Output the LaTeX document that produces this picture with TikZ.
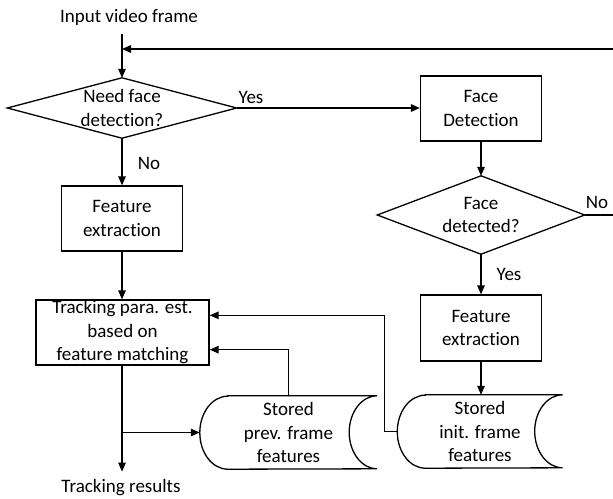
\documentclass[tikz,border=0pt]{standalone}
\usepackage{fontspec}
\setmainfont{Carlito}[Ligatures={NoCommon}]
\usetikzlibrary{arrows.meta,calc}
\begin{document}
\begin{tikzpicture}[x=1pt,y=-1pt,
  every node/.style={font=\fontsize{19}{23.5}\selectfont, inner sep=0pt, align=center},
  conn/.style={line width=1.3pt},
  arr/.style={conn, -{Triangle[length=9pt,width=7.5pt]}},
  procbox/.style={draw, line width=1.3pt, rectangle},
  decision/.style={rectangle},
  store/.style={rectangle}]
\useasboundingbox (0,0) rectangle (613,498);

% labels at the ends of the flow
\node[anchor=base] (in) at (129,22) {Input video frame};
\node[anchor=base] (out) at (121,492) {Tracking results};
\coordinate (start) at (122,34);
\coordinate (fb) at (613,49);
\coordinate (noend) at (613,215);

% blocks
\node[decision, minimum width=229pt, minimum height=60pt] (d1) at (122,108) {Need face\\detection?};
\node[procbox, minimum width=121pt, minimum height=65pt] (fd) at (481,108.5) {Face\\Detection};
\node[decision, minimum width=207pt, minimum height=78pt] (d2) at (481,215) {Face\\detected?};
\node[procbox, minimum width=121pt, minimum height=65pt] (fe1) at (122,218.5) {Feature\\extraction};
\node[procbox, minimum width=121pt, minimum height=66pt] (fe2) at (481,328) {Feature\\extraction};
\node[procbox, minimum width=173pt, minimum height=65pt] (tr) at (122.5,332.5) {Tracking para. est.\\based on\\feature matching};
\node[store, minimum width=177pt, minimum height=73pt] (prev) at (288.5,432.5) {Stored\\prev. frame\\features};
\node[store, minimum width=165pt, minimum height=73pt] (init) at (480,431.5) {Stored\\init. frame\\features};

% decision outlines
\foreach \n in {d1,d2}
  \draw[conn] (\n.west) -- (\n.north) -- (\n.east) -- (\n.south) -- cycle;

% stored-data outlines
\foreach \n in {prev,init}
  \draw[conn] ([xshift=28pt]\n.north west) -- (\n.north east)
    arc[start angle=90, end angle=270, x radius=28pt, y radius=36.5pt]
    -- ([xshift=28pt]\n.south west)
    arc[start angle=270, end angle=90, x radius=28pt, y radius=36.5pt] -- cycle;

% branch labels
\node[anchor=base] (yes1) at (251,103) {Yes};
\node[anchor=base] (no1) at (149,169) {No};
\node[anchor=base] (no2) at (597,208) {No};
\node[anchor=base] (yes2) at (509,280) {Yes};

% connectors
\draw[arr] (start) -- (d1.north);
\draw[arr] (fb) -- (fb -| d1.north);
\draw[arr] (d1.east) -- (d1.east -| fd.west);
\draw[arr] (d1.south) -- (fe1.north);
\draw[arr] (fd.south) -- (d2.north);
\draw[conn] (d2.east) -- (noend);
\draw[arr] (d2.south) -- (fe2.north);
\draw[arr] (fe2.south) -- (fe2.south |- init.north);
\draw[arr] (fe1.south) -- (fe1.south |- tr.north);
\draw[arr] (init.west) -- ++(-13,0) |- ($(tr.north east)+(0,16)$);
\draw[arr] (prev.north) |- ($(tr.south east)+(0,-16)$);
\coordinate (split) at (prev.west -| fe1.south);
\draw[arr] (tr.south -| fe1.south) -- ([yshift=7pt]out.north -| fe1.south);
\draw[arr] (split) -- (prev.west);
\end{tikzpicture}
\end{document}
